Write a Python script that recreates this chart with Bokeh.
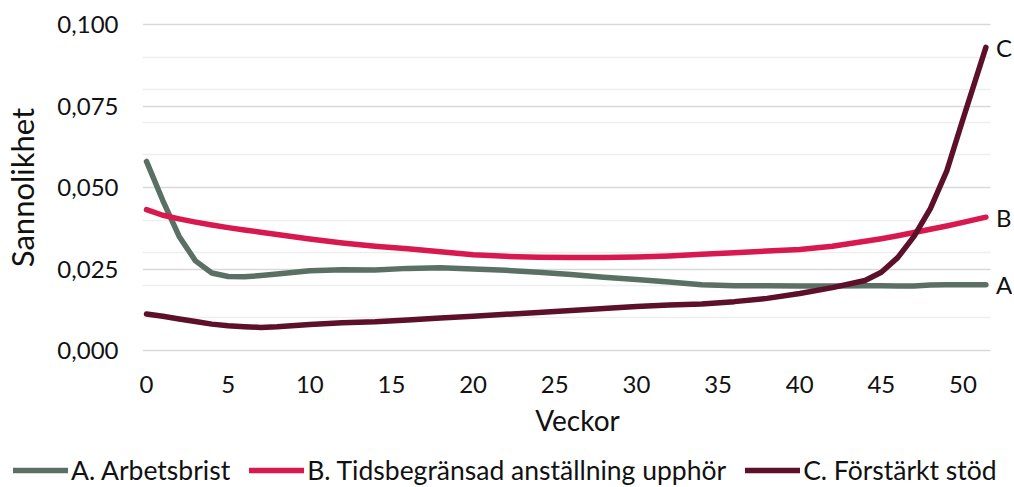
from bokeh.plotting import figure
from bokeh.layouts import column, row
from bokeh.models import FixedTicker, Grid, Legend, LegendItem, Label, Range1d, BoxAnnotation
from bokeh.embed import file_html
from bokeh.resources import INLINE

weeks = [0, 1, 2, 3, 4, 5, 6, 7, 8, 10, 12, 14, 16, 18, 20, 22, 24, 26, 28, 30,
         32, 34, 36, 38, 40, 42, 44, 45, 46, 47, 48, 49, 50, 51.4]
arbetsbrist = [0.0580, 0.0460, 0.0350, 0.0275, 0.0238, 0.0227, 0.0226, 0.0230, 0.0235,
               0.0245, 0.0248, 0.0247, 0.0252, 0.0254, 0.0250, 0.0246, 0.0240, 0.0233,
               0.0225, 0.0218, 0.0210, 0.0202, 0.0199, 0.0199, 0.0198, 0.0198, 0.0199,
               0.0199, 0.0198, 0.0198, 0.0201, 0.0202, 0.0202, 0.0202]
tidsbegransad = [0.0432, 0.0415, 0.0404, 0.0394, 0.0385, 0.0377, 0.0370, 0.0363, 0.0356,
                 0.0342, 0.0330, 0.0320, 0.0312, 0.0303, 0.0294, 0.0289, 0.0286, 0.0285,
                 0.0285, 0.0287, 0.0290, 0.0295, 0.0300, 0.0305, 0.0310, 0.0320, 0.0335,
                 0.0343, 0.0352, 0.0362, 0.0372, 0.0382, 0.0393, 0.0409]
forstarkt = [0.0112, 0.0105, 0.0097, 0.0089, 0.0081, 0.0076, 0.0073, 0.0071, 0.0073,
             0.0080, 0.0085, 0.0088, 0.0094, 0.0100, 0.0105, 0.0111, 0.0117, 0.0123,
             0.0129, 0.0135, 0.0140, 0.0143, 0.0150, 0.0160, 0.0175, 0.0193, 0.0215,
             0.0240, 0.0285, 0.0350, 0.0435, 0.0550, 0.0710, 0.0930]

series_names = ["A. Arbetsbrist", "B. Tidsbegränsad anställning upphör", "C. Förstärkt stöd"]
end_labels = ["A", "B", "C"]
colors = ["#5b7065", "#d7194f", "#5c1029"]

x_ticks = [0, 5, 10, 15, 20, 25, 30, 35, 40, 45, 50]
y_ticks = [0.0, 0.025, 0.05, 0.075, 0.1]
y_tick_labels = ["0,000", "0,025", "0,050", "0,075", "0,100"]
y_minor = [0.01, 0.02, 0.03, 0.04, 0.06, 0.07, 0.08, 0.09]

FONT = "Lato"
TXT = "#111111"
GRID_END = 51.68
LW = 5.5
W = 1012

p = figure(width=W, height=454, output_backend="svg", toolbar_location=None,
           x_range=Range1d(-0.245, 53.03), y_range=Range1d(-0.0006, 0.10061),
           min_border_left=141, min_border_right=0, min_border_top=22,
           min_border_bottom=102)
p.outline_line_color = None
p.background_fill_color = "white"
p.border_fill_color = "white"

p.xgrid.visible = False
p.ygrid.grid_line_color = "#d9d9d9"
p.ygrid.grid_line_width = 1.6

minor = Grid(dimension=1, ticker=FixedTicker(ticks=y_minor),
             grid_line_color="#eeeeee", grid_line_width=1.6)
p.add_layout(minor)
# hide grid beyond the plotted area, where the end labels sit
p.add_layout(BoxAnnotation(left=GRID_END, fill_color="white", fill_alpha=1,
                           line_color=None, level="underlay"))

p.xaxis.ticker = FixedTicker(ticks=x_ticks)
p.yaxis.ticker = FixedTicker(ticks=y_ticks)
p.yaxis.major_label_overrides = {t: l for t, l in zip(y_ticks, y_tick_labels)}

for ax in (p.xaxis, p.yaxis):
    ax.axis_line_color = None
    ax.major_tick_line_color = None
    ax.minor_tick_line_color = None
    ax.major_tick_out = 0
    ax.major_tick_in = 0
    ax.minor_tick_out = 0
    ax.major_label_text_font = FONT
    ax.major_label_text_font_size = "24px"
    ax.major_label_text_color = TXT
    ax.axis_label_text_font = FONT
    ax.axis_label_text_font_style = "normal"
    ax.axis_label_text_color = TXT

p.xaxis.axis_label = "Veckor"
p.yaxis.axis_label = "Sannolikhet"
p.xaxis.axis_label_text_font_size = "28px"
p.yaxis.axis_label_text_font_size = "31px"
p.xaxis.major_label_standoff = 23
p.xaxis.axis_label_standoff = 7
p.yaxis.major_label_standoff = 24
p.yaxis.axis_label_standoff = 13

for ys, col, lab in zip([arbetsbrist, tidsbegransad, forstarkt], colors, end_labels):
    p.line(weeks, ys, line_color=col, line_width=LW, line_join="round", line_cap="round")
    p.add_layout(Label(x=weeks[-1], y=ys[-1], text=lab, x_offset=10, text_baseline="middle",
                       text_font=FONT, text_font_size="24px", text_color=TXT))

# legend strip below the chart (its dummy lines lie outside the visible ranges)
lg = figure(width=W, height=32, output_backend="svg", toolbar_location=None,
            x_range=Range1d(0, 1), y_range=Range1d(0, 1),
            x_axis_location=None, y_axis_location=None, min_border=0)
lg.outline_line_color = None
lg.xgrid.visible = False
lg.ygrid.visible = False
items = []
for name, col in zip(series_names, colors):
    r = lg.line([5, 6], [5, 6], line_color=col, line_width=LW, line_cap="round")
    items.append(LegendItem(label=name, renderers=[r]))
legend = Legend(items=items, orientation="horizontal", location=(13, 0),
                label_text_font=FONT, label_text_font_size="26.5px", label_text_color=TXT,
                glyph_width=55, glyph_height=20, label_standoff=3, spacing=19,
                padding=0, margin=0, border_line_color=None, background_fill_alpha=0)
lg.add_layout(legend)

layout = column(p, row(lg), spacing=0)
open("out.html", "w").write(file_html(layout, INLINE))
